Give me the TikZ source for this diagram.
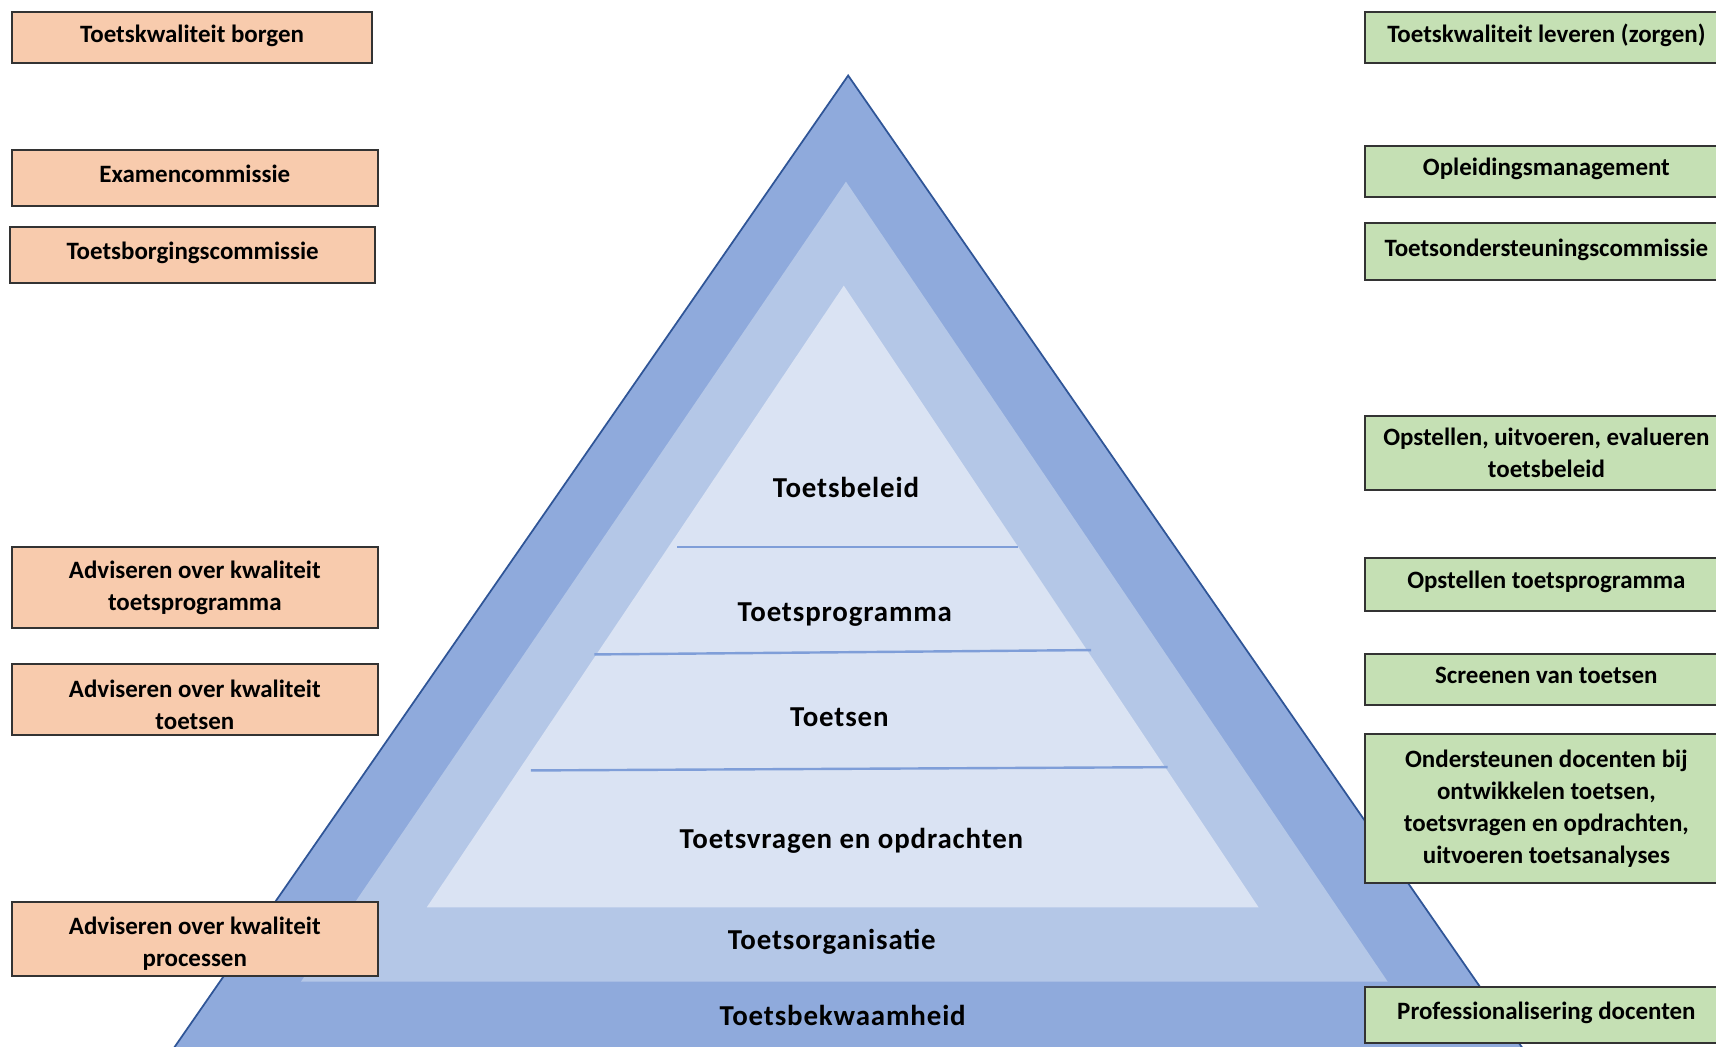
\documentclass[tikz,border=0pt]{standalone}
\usepackage{fontspec}
\setmainfont{Carlito}
\usepackage{xcolor}
\definecolor{peach}{HTML}{F8CBAD}
\definecolor{sage}{HTML}{C5E0B4}
\definecolor{tridark}{HTML}{8FAADC}
\definecolor{trimid}{HTML}{B4C7E7}
\definecolor{trilight}{HTML}{DAE3F3}
\definecolor{triedge}{HTML}{2F5597}
\definecolor{boxedge}{HTML}{333333}
\definecolor{layeredge}{HTML}{7F9ED8}
\tikzset{
    role-box/.style = {draw=boxedge, line width=0.9pt, rectangle, inner sep=0pt, minimum width=167pt, align=center, font=\bfseries\fontsize{11.4}{14.7}\selectfont},
    one-line/.style = {text height=8pt, text depth=4pt},
    low-text/.style = {text height=27.3pt},
    borg-box/.style = {role-box, fill=peach},
    zorg-box/.style = {role-box, fill=sage, minimum width=166pt},
    layer-label/.style = {font=\bfseries\fontsize{13.2}{15}\selectfont\addfontfeature{LetterSpace=3}},
    layer-line/.style = {draw=layeredge, line width=1.1pt},
}

\begin{document}
\begin{tikzpicture}[x=0.5pt, y=-0.5pt]
\useasboundingbox (0,0) rectangle (1568,956);
\begin{scope}
\clip (0,0) rectangle (1568,956);
\filldraw[fill=tridark, draw=triedge, line width=0.8pt] (775,69) -- (90,1057) -- (1460,1057) -- cycle;
\fill[trimid] (773,166) -- (275,897) -- (1268,897) -- cycle;
\fill[trilight] (771,261) -- (390,829) -- (1150,829) -- cycle;
\draw[layer-line] (619,500) -- (930,500);
\draw[layer-line] (543,598) -- (997,594);
\draw[layer-line] (485,704) -- (1067,701);
\end{scope}

\node[layer-label] (beleid) at (773,445) {Toetsbeleid};
\node[layer-label] (programma) at (772,562) {Toetsprogramma};
\node[layer-label] (toetsen) at (767,655) {Toetsen};
\node[layer-label] (vragen) at (778,768) {Toetsvragen en opdrachten};
\node[layer-label] (organisatie) at (760,861) {Toetsorganisatie};
\node[layer-label] (bekwaamheid) at (770,928) {Toetsbekwaamheid};

\node[borg-box, one-line, minimum width=164.5pt, minimum height=23.5pt] (borgen) at (175.5,34.5) {Toetskwaliteit borgen};
\node[borg-box, one-line, minimum height=25.5pt] (examen) at (178,162.5) {Examencommissie};
\node[borg-box, one-line, minimum height=26pt] (borging) at (176,233) {Toetsborgingscommissie};
\node[borg-box, minimum height=37pt] (adv-programma) at (178,537) {Adviseren over kwaliteit\\toetsprogramma};
\node[borg-box, low-text, minimum height=32.5pt] (adv-toetsen) at (178,639.5) {Adviseren over kwaliteit\\toetsen};
\node[borg-box, low-text, minimum height=34pt] (adv-processen) at (178,858) {Adviseren over kwaliteit\\processen};

\node[zorg-box, one-line, minimum height=23.5pt] (leveren) at (1413,34.5) {Toetskwaliteit leveren (zorgen)};
\node[zorg-box, one-line, minimum height=23.5pt] (management) at (1413,156.5) {Opleidingsmanagement};
\node[zorg-box, one-line, minimum height=26pt] (ondersteuning) at (1413,230) {Toetsondersteuningscommissie};
\node[zorg-box, minimum height=34pt] (opstellen-beleid) at (1413,414) {Opstellen, uitvoeren, evalueren\\toetsbeleid};
\node[zorg-box, one-line, minimum height=24pt] (opstellen-programma) at (1413,534) {Opstellen toetsprogramma};
\node[zorg-box, one-line, minimum height=23pt] (screenen) at (1413,621) {Screenen van toetsen};
\node[zorg-box, minimum height=68pt] (ondersteunen) at (1413,739) {Ondersteunen docenten bij\\ontwikkelen toetsen,\\toetsvragen en opdrachten,\\uitvoeren toetsanalyses};
\node[zorg-box, one-line, minimum height=25.5pt] (professionalisering) at (1413,927.5) {Professionalisering docenten};
\end{tikzpicture}
\end{document}
